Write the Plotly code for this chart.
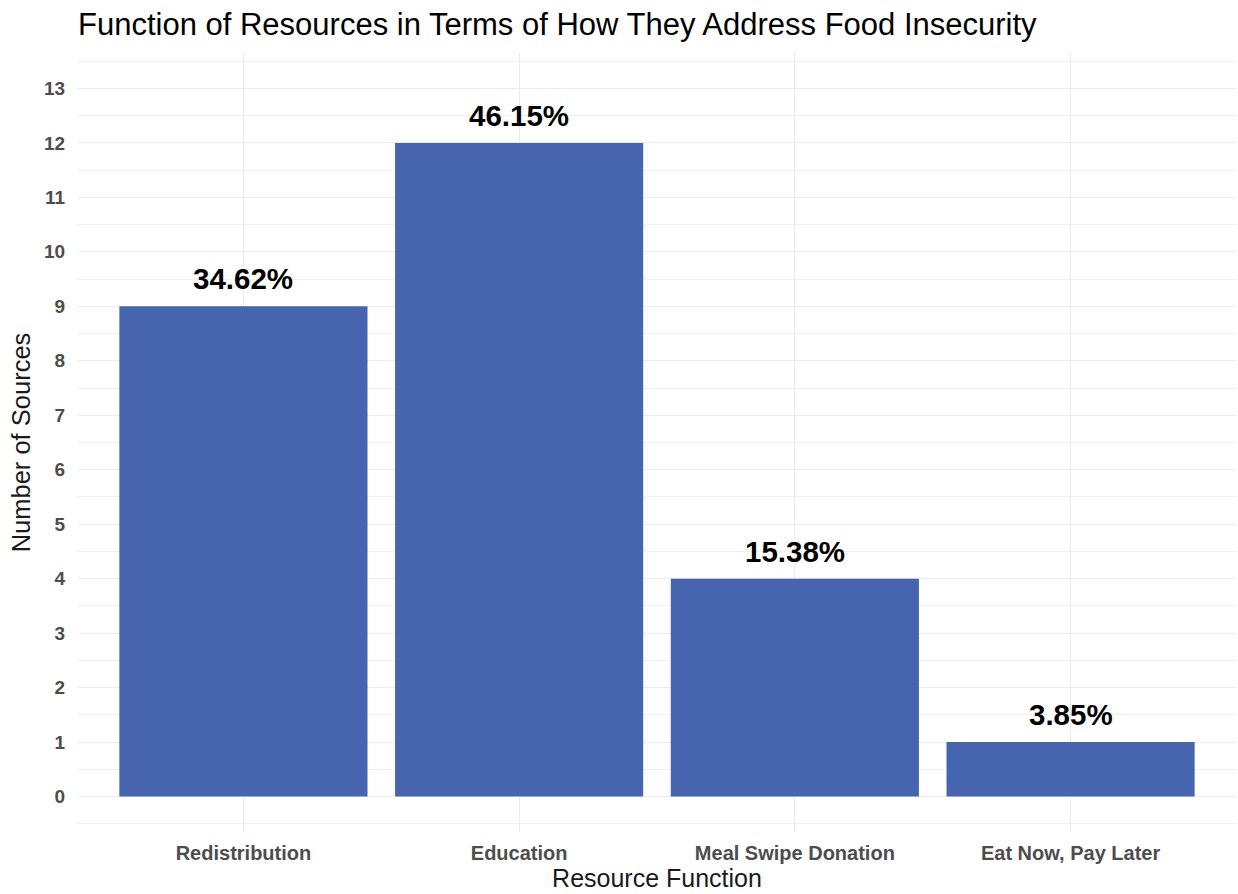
import plotly.graph_objects as go

categories = ["Redistribution", "Education", "Meal Swipe Donation", "Eat Now, Pay Later"]
counts = [9, 12, 4, 1]
pct_labels = ["34.62%", "46.15%", "15.38%", "3.85%"]
y_ticks = list(range(0, 14))

bar_color = "#4765AF"

fig = go.Figure()
fig.add_trace(go.Bar(
    x=categories, y=counts, width=0.9,
    marker=dict(color=bar_color, line=dict(width=0)),
    hoverinfo="skip",
))

for c, v, t in zip(categories, counts, pct_labels):
    fig.add_annotation(
        x=c, y=v, text=t, showarrow=False, yanchor="bottom", yshift=9,
        font=dict(family="Liberation Sans, Arial", size=29.5, color="#000000", weight="bold"),
    )

fig.update_layout(
    width=1238, height=894,
    margin=dict(l=78, r=2, t=53, b=62),
    paper_bgcolor="white", plot_bgcolor="white",
    showlegend=False,
    title=dict(
        text="Function of Resources in Terms of How They Address Food Insecurity",
        x=78 / 1238, xanchor="left", xref="container",
        y=1 - 24 / 894, yanchor="middle", yref="container",
        font=dict(family="Liberation Sans, Arial", size=31, color="#000000"),
    ),
    bargap=0.1,
)

fig.update_xaxes(
    range=[-0.6, 3.6],
    showgrid=True, gridcolor="#EBEBEB", gridwidth=1.4,
    zeroline=False, showline=False,
    ticks="outside", ticklen=3, tickcolor="rgba(0,0,0,0)",
    tickfont=dict(family="Liberation Sans, Arial", size=20, color="#4D4D4D", weight="bold"),
    title=dict(text="Resource Function", standoff=2,
               font=dict(family="Liberation Sans, Arial", size=25, color="#1A1A1A")),
)
fig.update_yaxes(
    range=[-0.65, 13.65],
    tickvals=y_ticks, ticktext=[str(v) for v in y_ticks],
    showgrid=True, gridcolor="#EBEBEB", gridwidth=1.4,
    minor=dict(tick0=0.5, dtick=1, showgrid=True, gridcolor="#F0F0F0", gridwidth=0.9),
    zeroline=False, showline=False,
    ticks="outside", ticklen=8, tickcolor="rgba(0,0,0,0)",
    tickfont=dict(family="Liberation Sans, Arial", size=19, color="#4D4D4D", weight="bold"),
    title=dict(text="Number of Sources", standoff=6,
               font=dict(family="Liberation Sans, Arial", size=25.5, color="#1A1A1A")),
)

fig.write_html("out.html")
